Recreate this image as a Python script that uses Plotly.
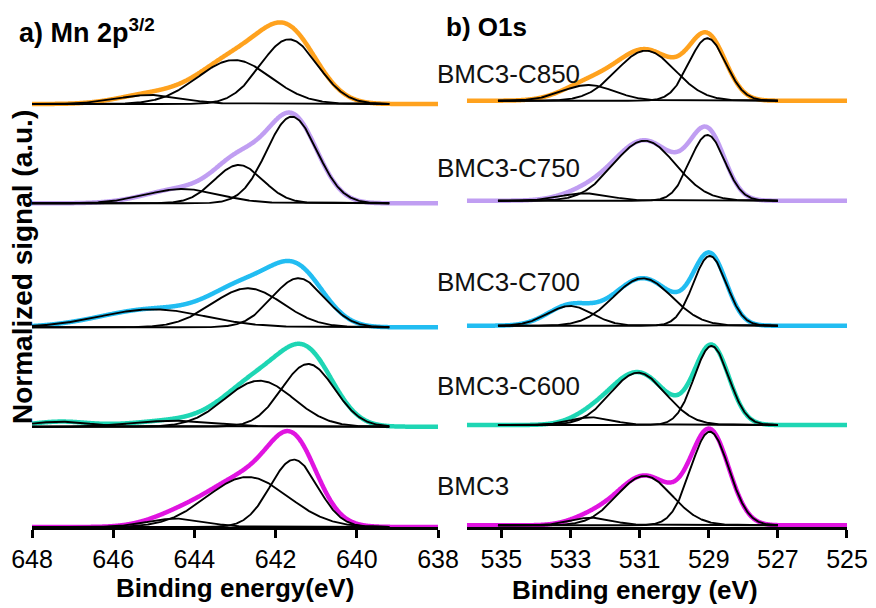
import numpy as np
import plotly.graph_objects as go

# ---- sample names and envelope colours (bottom to top) ----
samples = ["BMC3", "BMC3-C600", "BMC3-C700", "BMC3-C750", "BMC3-C850"]
colors = ["#E014E0", "#1ED6B4", "#22BDF2", "#C09EF2", "#FFA21E"]

# ---- Mn 2p3/2 fitted components: centre (eV), height (a.u.), FWHM (eV) ----
mn_offsets = [0.00, 1.003, 1.997, 3.237, 4.23]
mn_centers = [
    [641.55, 642.69, 644.45],
    [641.20, 642.40, 644.50, 647.30],
    [641.44, 642.69, 645.02],
    [641.60, 642.91, 644.29],
    [641.67, 643.02, 645.10],
]
mn_heights = [
    [0.674, 0.500, 0.084],
    [0.627, 0.460, 0.060, 0.050],
    [0.490, 0.390, 0.180],
    [0.866, 0.383, 0.143],
    [0.647, 0.440, 0.090],
]
mn_fwhm = [
    [1.37, 2.36, 1.65],
    [1.53, 2.00, 2.36, 1.65],
    [1.53, 2.05, 3.06],
    [1.46, 1.41, 2.12],
    [1.65, 2.12, 1.88],
]

# ---- O 1s fitted components ----
o_offsets = [0.017, 1.02, 2.013, 3.263, 4.263]
o_centers = [
    [528.97, 530.86, 532.40],
    [528.92, 531.05, 532.40],
    [528.97, 530.91, 533.02],
    [529.04, 530.86, 532.59],
    [529.04, 530.82, 532.49],
]
o_heights = [
    [0.936, 0.493, 0.076],
    [0.790, 0.523, 0.077],
    [0.697, 0.474, 0.197],
    [0.657, 0.600, 0.074],
    [0.624, 0.500, 0.157],
]
o_fwhm = [
    [1.30, 1.88, 1.41],
    [1.18, 1.88, 1.41],
    [1.13, 2.00, 1.53],
    [1.18, 2.12, 1.65],
    [1.25, 2.00, 1.77],
]

# axis ranges / ticks
mn_range = [648, 638]
o_range = [536, 525]
mn_ticks = [648, 646, 644, 642, 640, 638]
o_ticks = [535, 533, 531, 529, 527, 525]
mn_fit_window = (639.2, 648.0)
o_fit_window = (527.0, 535.1)


def gauss(x, c, h, w):
    return h * np.exp(-4 * np.log(2) * (x - c) ** 2 / w ** 2)


fig = go.Figure()


def add_panel(xaxis, yaxis, xr, window, offsets, centers, heights, fwhms):
    x_env = np.linspace(min(xr), max(xr), 600)
    x_cmp = np.linspace(window[0], window[1], 500)
    # envelopes (sum of components) underneath
    for i, name in enumerate(samples):
        env = sum(gauss(x_env, c, h, w) for c, h, w in zip(centers[i], heights[i], fwhms[i]))
        fig.add_trace(go.Scatter(
            x=x_env, y=env + offsets[i], mode="lines", name=name,
            line=dict(color=colors[i], width=4.5, shape="spline"),
            xaxis=xaxis, yaxis=yaxis, showlegend=False, hoverinfo="skip"))
    # individual fitted peaks on top
    for i, name in enumerate(samples):
        for c, h, w in zip(centers[i], heights[i], fwhms[i]):
            fig.add_trace(go.Scatter(
                x=x_cmp, y=gauss(x_cmp, c, h, w) + offsets[i], mode="lines",
                line=dict(color="black", width=1.9),
                xaxis=xaxis, yaxis=yaxis, showlegend=False, hoverinfo="skip"))


add_panel("x", "y", mn_range, mn_fit_window, mn_offsets, mn_centers, mn_heights, mn_fwhm)
add_panel("x2", "y2", o_range, o_fit_window, o_offsets, o_centers, o_heights, o_fwhm)

W, H = 876, 608
ml, mr, mt, mb = 32, 25, 8, 81
pw, ph = W - ml - mr, H - mt - mb


def px(xp):
    return (xp - ml) / pw


def py(yp):
    return (H - mb - yp) / ph


axis_font = dict(family="Liberation Sans, Arial, sans-serif", size=25, color="black")
xcommon = dict(showline=True, linecolor="black", linewidth=2.5, ticks="outside",
               ticklen=8, tickwidth=2.5, tickcolor="black", showgrid=False,
               zeroline=False, tickfont=axis_font, fixedrange=True)

fig.update_layout(
    width=W, height=H,
    margin=dict(l=ml, r=mr, t=mt, b=mb),
    plot_bgcolor="white", paper_bgcolor="white",
    xaxis=dict(domain=[0, px(440)], range=mn_range, tickvals=mn_ticks, anchor="y", **xcommon),
    xaxis2=dict(domain=[px(469), 1], range=o_range, tickvals=o_ticks, anchor="y2", **xcommon),
    yaxis=dict(range=[0, ph / 100], visible=False, domain=[0, 1]),
    yaxis2=dict(range=[0, ph / 100], visible=False, domain=[0, 1], anchor="x2"),
)

ann = []
ff = "Liberation Sans, Arial, sans-serif"
ann.append(dict(text="<b>a) Mn 2p<sup>3/2</sup></b>", x=px(17), y=py(31), xanchor="left",
                yanchor="middle", font=dict(family=ff, size=27, color="black")))
ann.append(dict(text="<b>b) O1s</b>", x=px(446), y=py(27), xanchor="left",
                yanchor="middle", font=dict(family=ff, size=26, color="black")))
label_y = [486, 386, 282, 168, 74]
for name, yy in zip(samples, label_y):
    ann.append(dict(text=name, x=px(437), y=py(yy), xanchor="left", yanchor="middle",
                    font=dict(family=ff, size=26, color="#111111")))
ann.append(dict(text="<b>Binding energy(eV)</b>", x=px(236), y=py(588), xanchor="center",
                yanchor="middle", font=dict(family=ff, size=26, color="black")))
ann.append(dict(text="<b>Binding energy (eV)</b>", x=px(638), y=py(590), xanchor="center",
                yanchor="middle", font=dict(family=ff, size=26, color="black")))
ann.append(dict(text="<b>Normalized signal (a.u.)</b>", x=px(22), y=py(267), textangle=-90,
                xanchor="center", yanchor="middle", font=dict(family=ff, size=28, color="black")))
for a in ann:
    a.update(xref="paper", yref="paper", showarrow=False)
fig.update_layout(annotations=ann)

fig.write_html("out.html")
